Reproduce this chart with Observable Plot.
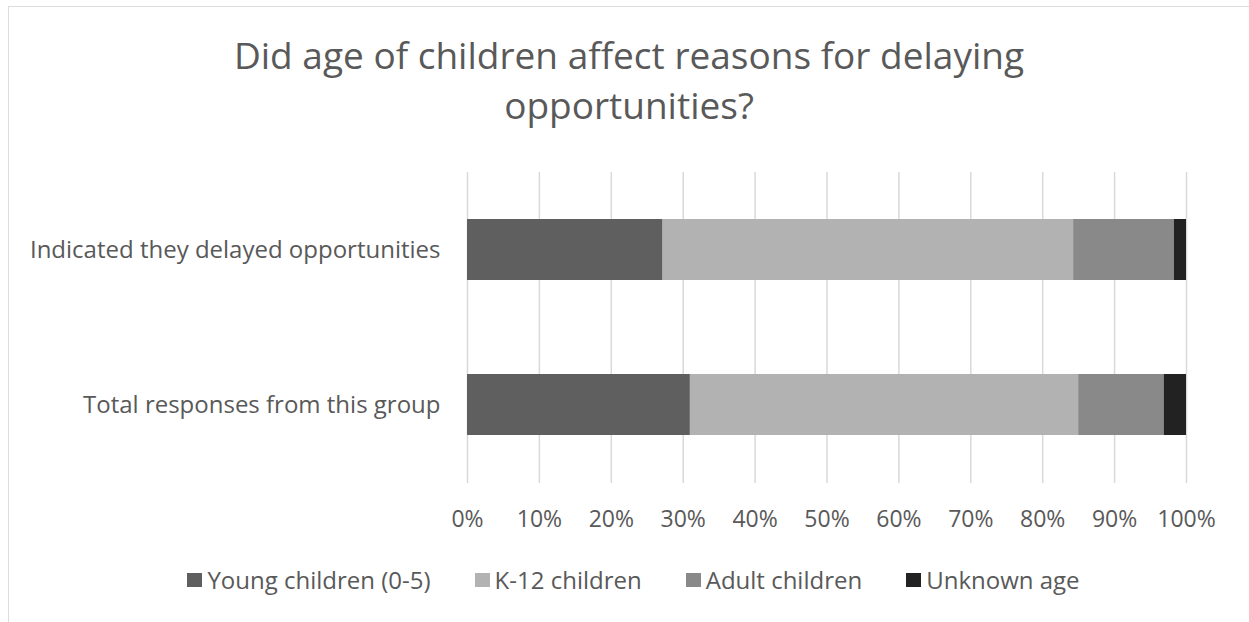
<!DOCTYPE html>
<html>
<head>
<meta charset="utf-8">
<script src="https://cdn.jsdelivr.net/npm/d3@7"></script>
<script src="https://cdn.jsdelivr.net/npm/@observablehq/plot@0.6"></script>
<style>
  html, body { margin: 0; padding: 0; background: #fff; }
  body { width: 1249px; height: 622px; position: relative; overflow: hidden; font-family: "Open Sans", Lato, sans-serif; color: #595959; }
  #frame { position: absolute; left: 8px; top: 6px; right: -10px; bottom: -10px; border-top: 1.5px solid #dcdcdc; border-left: 1.5px solid #dcdcdc; }
  #title { position: absolute; left: 0; top: 30px; width: 1258px; text-align: center; font-size: 37px; line-height: 50px; color: #595959; }
  #chart { position: absolute; left: 0; top: 140px; }
  #legend { position: absolute; left: 0; top: 564px; width: 1267px; display: flex; justify-content: center; gap: 44px; font-size: 24px; line-height: 32px; color: #595959; }
  .item { display: flex; align-items: center; gap: 5px; }
  .sw { width: 15px; height: 14px; display: inline-block; }
</style>
</head>
<body>
<div id="frame"></div>
<div id="title">Did age of children affect reasons for delaying<br>opportunities?</div>
<div id="chart"></div>
<div id="legend"></div>
<script>
const categories = ["Indicated they delayed opportunities", "Total responses from this group"];
const seriesNames = ["Young children (0-5)", "K-12 children", "Adult children", "Unknown age"];
const seriesColors = ["#5f5f5f", "#b2b2b2", "#898989", "#222222"];
const youngChildren = [27.2, 31.0];
const k12Children = [57.1, 54.0];
const adultChildren = [14.0, 11.9];
const unknownAge = [1.7, 3.1];
const xTicks = [0, 10, 20, 30, 40, 50, 60, 70, 80, 90, 100];

const seriesValues = [youngChildren, k12Children, adultChildren, unknownAge];
const rows = [];
categories.forEach((c, i) => {
  seriesNames.forEach((s, j) => rows.push({category: c, series: s, value: seriesValues[j][i]}));
});

const chart = Plot.plot({
  width: 1249,
  height: 400,
  marginTop: 32,
  marginBottom: 57,
  marginLeft: 467,
  marginRight: 63,
  style: {fontFamily: "'Open Sans', Lato, sans-serif", color: "#595959", background: "transparent"},
  x: {domain: [0, 100], label: null},
  y: {domain: categories, label: null, paddingInner: 0.605, paddingOuter: 0.304},
  color: {domain: seriesNames, range: seriesColors},
  marks: [
    Plot.gridX(xTicks, {stroke: "#d9d9d9", strokeOpacity: 1, strokeWidth: 1.5}),
    Plot.barX(rows, Plot.stackX({x: "value", y: "category", fill: "series", order: seriesNames})),
    Plot.axisX({ticks: xTicks, tickSize: 0, tickPadding: 27, tickFormat: d => d + "%", fontSize: 23, label: null}),
    Plot.axisY({tickSize: 0, tickPadding: 27, fontSize: 24, label: null})
  ]
});
document.getElementById("chart").appendChild(chart);

const legend = document.getElementById("legend");
seriesNames.forEach((s, i) => {
  const item = document.createElement("div");
  item.className = "item";
  const sw = document.createElement("span");
  sw.className = "sw";
  sw.style.background = seriesColors[i];
  const t = document.createElement("span");
  t.textContent = s;
  item.appendChild(sw);
  item.appendChild(t);
  legend.appendChild(item);
});
</script>
</body>
</html>
